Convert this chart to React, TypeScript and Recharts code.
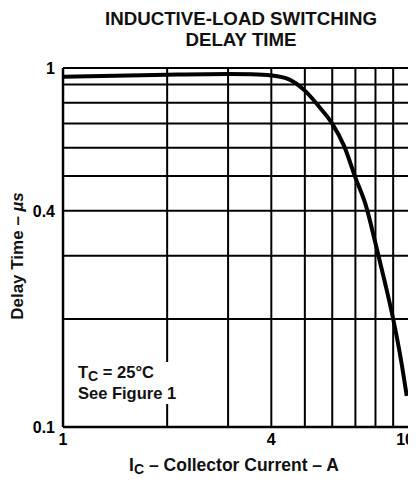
import React from 'react';
import { LineChart, Line, XAxis, YAxis, CartesianGrid } from 'recharts';

const currentA = [1, 2, 3, 3.5, 4, 4.5, 5, 5.5, 6, 6.5, 7, 7.5, 8, 8.5, 9, 9.5, 9.85];
const delayUs = [0.945, 0.958, 0.962, 0.96, 0.953, 0.93, 0.865, 0.78, 0.7, 0.605, 0.495, 0.415, 0.325, 0.255, 0.2, 0.152, 0.122];
const xTicks = [1, 2, 3, 4, 5, 6, 7, 8, 9, 10];
const yTicks = [0.1, 0.2, 0.3, 0.4, 0.5, 0.6, 0.7, 0.8, 0.9, 1];
const xLabeled = [1, 4, 10];
const yLabeled = [0.1, 0.4, 1];

const data = currentA.map((x, i) => ({ x, y: delayUs[i] }));

const FONT = '"Liberation Sans", Arial, Helvetica, sans-serif';

const XTick = (props: any) => {
  const { x, y, payload } = props;
  const v = payload.value;
  if (!xLabeled.includes(v)) return null;
  const isLast = v === 10;
  return (
    <text x={isLast ? x + 5 : x} y={y} dy={12} textAnchor={isLast ? 'end' : 'middle'} fill="#000" fontSize={16} fontWeight="bold" fontFamily={FONT}>
      {String(v)}
    </text>
  );
};

export default function App() {
  return (
    <div style={{ position: 'relative', width: 408, height: 468, fontFamily: FONT, overflow: 'hidden' }}>
      <LineChart width={408} height={468} data={data} margin={{ top: 60, right: 7, bottom: 19, left: 15 }} style={{ overflow: 'visible' }}>
        <CartesianGrid stroke="#000" strokeWidth={2} strokeOpacity={1} />
        <XAxis
          dataKey="x"
          type="number"
          scale="log"
          domain={[1, 10]}
          ticks={xTicks}
          allowDataOverflow
          interval={0}
          axisLine={{ stroke: '#000', strokeWidth: 2.5 }}
          tickLine={false}
          tickSize={4}
          height={30}
          tick={<XTick />}
        />
        <YAxis
          type="number"
          scale="log"
          domain={[0.1, 1]}
          ticks={yTicks}
          allowDataOverflow
          interval={0}
          width={40}
          axisLine={{ stroke: '#000', strokeWidth: 2.5 }}
          tickLine={false}
          tickSize={6}
          tick={{ fill: '#000', fontSize: 16, fontWeight: 'bold', fontFamily: FONT }}
          tickFormatter={(v: number) => (yLabeled.includes(v) ? String(v) : '')}
        />
        <Line
          dataKey="y"
          type="monotone"
          stroke="#000"
          strokeWidth={4}
          dot={false}
          isAnimationActive={false}
        />
      </LineChart>
      <div style={{ position: 'absolute', left: 58, width: 350, top: 0, textAlign: 'center', fontSize: 18.7, fontWeight: 'bold', lineHeight: '21px', color: '#111', whiteSpace: 'nowrap' }}>
        INDUCTIVE-LOAD SWITCHING<br />DELAY TIME
      </div>
      <div style={{ position: 'absolute', left: 1, top: 248, width: 0, height: 0 }}>
        <div style={{ position: 'absolute', left: 0, top: 0, transform: 'translate(-50%, -50%) rotate(-90deg)', whiteSpace: 'nowrap', fontSize: 17, fontWeight: 'bold', color: '#111', marginLeft: 9 }}>
          Delay Time – <i>µs</i>
        </div>
      </div>
      <div style={{ position: 'absolute', left: 46, width: 360, top: 447, textAlign: 'center', fontSize: 17.5, fontWeight: 'bold', color: '#111', whiteSpace: 'nowrap' }}>
        I<sub style={{ fontSize: 14, verticalAlign: '-3px' }}>C</sub> – Collector Current – A
      </div>
      <div style={{ position: 'absolute', left: 67, top: 354, padding: '2px 3px', background: '#fff', fontSize: 16.5, fontWeight: 'bold', lineHeight: '17px', color: '#111' }}>
        <div>T<sub style={{ fontSize: 14, verticalAlign: '-3px' }}>C</sub> = 25°C</div>
        <div>See Figure 1</div>
      </div>
    </div>
  );
}
